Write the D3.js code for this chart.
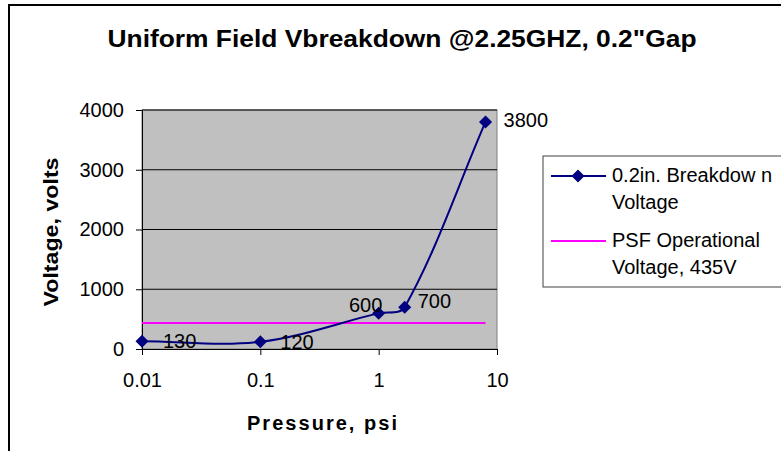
<!DOCTYPE html>
<html><head><meta charset="utf-8">
<script src="https://cdn.jsdelivr.net/npm/d3@7"></script>
<style>body{margin:0;background:#fff}svg{display:block}</style>
</head><body>
<svg id="c" width="781" height="451"></svg>
<script>
const title = "Uniform Field Vbreakdown @2.25GHZ, 0.2\"Gap";
const xTitle = "Pressure, psi";
const yTitle = "Voltage, volts";
const xTicks = [0.01, 0.1, 1, 10];
const xTickLabels = ["0.01", "0.1", "1", "10"];
const yTicks = [0, 1000, 2000, 3000, 4000];
const pressure = [0.01, 0.1, 1, 1.66, 8];
const breakdown = [130, 120, 600, 700, 3800];
const psfPressure = [0.01, 0.1, 1, 1.66, 8];
const psfVoltage = [435, 435, 435, 435, 435];
const legendLabels = [["0.2in. Breakdow n", "Voltage"], ["PSF Operational", "Voltage, 435V"]];
const labelOffsets = [[21, 7], [20, 7], [-13, -1], [13, 1], [18, 5]];

// Excel-like smoothing: Catmull-Rom tangent directions, control lengths = segment/3
function ExcelSmooth(context) { this._context = context; }
ExcelSmooth.prototype = {
  areaStart() { this._line = 0; }, areaEnd() { this._line = NaN; },
  lineStart() { this._pts = []; },
  point(px, py) { this._pts.push([+px, +py]); },
  lineEnd() {
    const p = this._pts, n = p.length, c = this._context;
    if (!n) return;
    c.moveTo(p[0][0], p[0][1]);
    const dir = i => {
      const a = p[Math.max(0, i - 1)], b = p[Math.min(n - 1, i + 1)];
      const dx = b[0] - a[0], dy = b[1] - a[1], l = Math.hypot(dx, dy) || 1;
      return [dx / l, dy / l];
    };
    for (let i = 0; i < n - 1; i++) {
      const a = p[i], b = p[i + 1], l = Math.hypot(b[0] - a[0], b[1] - a[1]) / 3;
      const da = dir(i), db = dir(i + 1);
      c.bezierCurveTo(a[0] + da[0] * l, a[1] + da[1] * l, b[0] - db[0] * l, b[1] - db[1] * l, b[0], b[1]);
    }
  }
};
const curveExcel = ctx => new ExcelSmooth(ctx);

const svg = d3.select("#c");
const F = "'Liberation Sans', Arial, sans-serif";
const L = 142, R = 497, T = 110, B = 349;
const x = d3.scaleLog().domain([0.01, 10]).range([L, R]);
const y = d3.scaleLinear().domain([0, 4000]).range([B, T]);

// outer chart border
svg.append("rect").attr("x", 9).attr("y", 5).attr("width", 800).attr("height", 500)
  .attr("fill", "#fff").attr("stroke", "#000").attr("stroke-width", 2);

svg.append("text").attr("x", 402).attr("y", 47).attr("text-anchor", "middle")
  .attr("font-family", F).attr("font-weight", "bold").attr("font-size", 23)
  .attr("textLength", 589).attr("lengthAdjust", "spacingAndGlyphs")
  .text(title);

// plot area
svg.append("rect").attr("x", L).attr("y", T).attr("width", R - L).attr("height", B - T)
  .attr("fill", "#c0c0c0").attr("stroke", "#808080").attr("stroke-width", 1);

// gridlines
svg.append("g").selectAll("line").data(yTicks.slice(1)).join("line")
  .attr("x1", L).attr("x2", R).attr("y1", d => y(d)).attr("y2", d => y(d))
  .attr("stroke", "#000").attr("stroke-width", 1);

// axes
const gy = svg.append("g").attr("transform", `translate(${L},0)`)
  .call(d3.axisLeft(y).tickValues(yTicks).tickSize(6).tickPadding(12).tickFormat(d3.format("d")));
const gx = svg.append("g").attr("transform", `translate(0,${B})`)
  .call(d3.axisBottom(x).tickValues(xTicks).tickSize(6).tickPadding(18)
    .tickFormat((d, i) => xTickLabels[i]));
[gy, gx].forEach(g => {
  g.select(".domain").attr("stroke", "#000");
  g.selectAll("line").attr("stroke", "#000");
  g.selectAll("text").attr("font-family", F).attr("font-size", 20).attr("fill", "#000");
});

// PSF line
const pts2 = psfPressure.map((p, i) => [x(p), y(psfVoltage[i])]);
svg.append("path").attr("d", d3.line()(pts2)).attr("fill", "none")
  .attr("stroke", "#ff00ff").attr("stroke-width", 2);

// breakdown line
const pts = pressure.map((p, i) => [x(p), y(breakdown[i])]);
svg.append("path").attr("d", d3.line().curve(curveExcel)(pts))
  .attr("fill", "none").attr("stroke", "#000080").attr("stroke-width", 2);

const diamond = d3.symbol().type(d3.symbolSquare).size(85);
svg.append("g").selectAll("path").data(pts).join("path")
  .attr("d", diamond).attr("fill", "#000080")
  .attr("transform", d => `translate(${d[0]},${d[1]}) rotate(45)`);

svg.append("g").selectAll("text").data(pts).join("text")
  .attr("x", (d, i) => d[0] + labelOffsets[i][0])
  .attr("y", (d, i) => d[1] + labelOffsets[i][1])
  .attr("text-anchor", (d, i) => labelOffsets[i][0] < 0 ? "middle" : "start")
  .attr("font-family", F).attr("font-size", 20).attr("fill", "#000")
  .text((d, i) => breakdown[i]);

// axis titles
svg.append("text").attr("x", 322).attr("y", 430).attr("text-anchor", "middle")
  .attr("font-family", F).attr("font-weight", "bold").attr("font-size", 20)
  .attr("textLength", 150).attr("lengthAdjust", "spacing").text(xTitle);
svg.append("text").attr("transform", "translate(58,232) rotate(-90)").attr("text-anchor", "middle")
  .attr("font-family", F).attr("font-weight", "bold").attr("font-size", 20)
  .attr("textLength", 149).attr("lengthAdjust", "spacingAndGlyphs")
  .text(yTitle);

// legend
const lg = svg.append("g");
lg.append("rect").attr("x", 543).attr("y", 156).attr("width", 260).attr("height", 131)
  .attr("fill", "#fff").attr("stroke", "#404040").attr("stroke-width", 1);
const legendY = [176, 241];
const legendColors = ["#000080", "#ff00ff"];
legendLabels.forEach((lines, i) => {
  lg.append("line").attr("x1", 551).attr("x2", 606).attr("y1", legendY[i]).attr("y2", legendY[i])
    .attr("stroke", legendColors[i]).attr("stroke-width", 2);
  if (i === 0) lg.append("path").attr("d", diamond).attr("fill", "#000080")
    .attr("transform", `translate(578,${legendY[i]}) rotate(45)`);
  lines.forEach((t, j) => lg.append("text").attr("x", 612).attr("y", legendY[i] + 6 + j * 27)
    .attr("font-family", F).attr("font-size", 20).attr("fill", "#000").text(t));
});
</script>
</body></html>
